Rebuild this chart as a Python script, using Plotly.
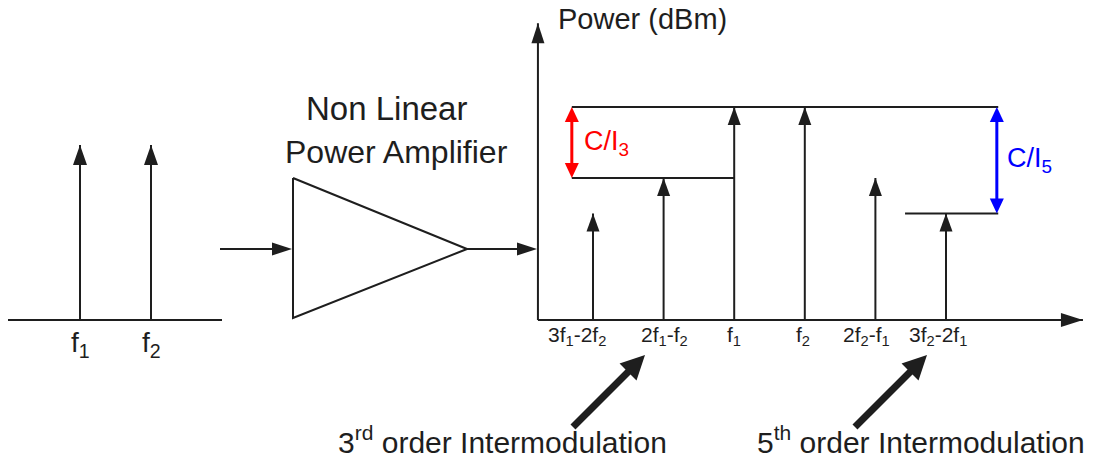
import numpy as np
import plotly.graph_objects as go

W, H = 1095, 464          # browser window
OFF = 8                   # default page margin around the plot div
FW, FH = W - 2 * OFF, H - 2 * OFF

# ---------------- data ----------------
# input two-tone signal (frequency units, dBm)
in_labels = ["f<sub>1</sub>", "f<sub>2</sub>"]
in_freq = [3, 4]
in_power = [0, 0]

# output spectrum of the non-linear amplifier
out_labels = ["3f<sub>1</sub>-2f<sub>2</sub>", "2f<sub>1</sub>-f<sub>2</sub>", "f<sub>1</sub>",
              "f<sub>2</sub>", "2f<sub>2</sub>-f<sub>1</sub>", "3f<sub>2</sub>-2f<sub>1</sub>"]
out_freq = [1, 2, 3, 4, 5, 6]
out_power = [-15, -10, 0, 0, -10, -15]

floor_dbm = -30        # axis baseline
carrier_dbm = 0
im3_dbm = -10
im5_dbm = -15

# extents of the drawn axes (data units)
out_x_origin, out_x_end = 0.22, 7.94
out_y_top = 11.8
ref_x_left, ref_x_right = 0.70, 6.74     # C/I reference line extents
im3_line_end = 3                          # IM3 reference line ends at f1
im5_line_start = 5.42
in_x_left, in_x_right = 1.986, 5.0

bottom_texts = ["3<sup>rd</sup> order Intermodulation", "5<sup>th</sup> order Intermodulation"]

# ---------------- styles / layout helpers ----------------
INK = "#1e1e1e"
FONT = "Liberation Sans, Arial, Helvetica, sans-serif"
label_xshift = [-16, 1, 0, -2, -9, -8]


def pxx(sx):
    return (sx - OFF) / FW


def pxy(sy):
    return 1 - (sy - OFF) / FH


fig = go.Figure()
shapes = []


def head(xref, yref, x, y, ang, length, width, color=INK):
    a = np.radians(ang)
    dx, dy = np.cos(a), np.sin(a)
    px, py = -dy, dx
    bx, by = -length * dx, -length * dy
    p1 = (bx + px * width / 2, by + py * width / 2)
    p2 = (bx - px * width / 2, by - py * width / 2)
    path = f"M0,0 L{p1[0]:.2f},{p1[1]:.2f} L{p2[0]:.2f},{p2[1]:.2f} Z"
    shapes.append(dict(type="path", xref=xref, yref=yref, xsizemode="pixel",
                       ysizemode="pixel", xanchor=x, yanchor=y, path=path,
                       fillcolor=color, line=dict(width=0), layer="above"))


def line(xs, ys, xa="x", ya="y", color=INK, width=2):
    fig.add_trace(go.Scatter(x=xs, y=ys, mode="lines", xaxis=xa, yaxis=ya,
                             line=dict(color=color, width=width),
                             hoverinfo="skip", showlegend=False))


# ---------------- input spectrum (x3/y3) ----------------
line([in_x_left, in_x_right], [floor_dbm, floor_dbm], "x3", "y3")
xs, ys = [], []
for f, p in zip(in_freq, in_power):
    xs += [f, f, None]
    ys += [floor_dbm, p, None]
    head("x3", "y3", f, p, 90, 20, 14)
line(xs, ys, "x3", "y3")

# ---------------- amplifier block (canvas, screen pixel units) ----------------
amp_x = [293, 293, 467, 293]
amp_y = [178, 318, 249, 178]
line(amp_x, amp_y, width=2)
line([220, 280], [249, 249])
head("x", "y", 292, 249, 0, 20, 13)
line([467, 525], [249, 249])
head("x", "y", 537, 249, 0, 20, 13)

# ---------------- output spectrum (x2/y2) ----------------
line([out_x_origin, out_x_origin], [floor_dbm, out_y_top], "x2", "y2")
head("x2", "y2", out_x_origin, out_y_top, 90, 20, 13)
line([out_x_origin, out_x_end], [floor_dbm, floor_dbm], "x2", "y2")
head("x2", "y2", out_x_end, floor_dbm, 0, 22, 14)

xs, ys = [], []
for f, p in zip(out_freq, out_power):
    xs += [f, f, None]
    ys += [floor_dbm, p, None]
    head("x2", "y2", f, p, 90, 18, 13)
line(xs, ys, "x2", "y2")

# reference levels
line([ref_x_left, ref_x_right], [carrier_dbm, carrier_dbm], "x2", "y2")
line([ref_x_left, im3_line_end], [im3_dbm, im3_dbm], "x2", "y2")
line([im5_line_start, ref_x_right], [im5_dbm, im5_dbm], "x2", "y2")

# C/I3 (red) and C/I5 (blue) double arrows
RED, BLUE = "#ff0000", "#0000ff"
line([ref_x_left, ref_x_left], [carrier_dbm - 1.2, im3_dbm + 1.2], "x2", "y2", RED, 3)
head("x2", "y2", ref_x_left, carrier_dbm, 90, 15, 14, RED)
head("x2", "y2", ref_x_left, im3_dbm, -90, 15, 14, RED)
cx5 = ref_x_right - 0.02
line([cx5, cx5], [carrier_dbm - 1.2, im5_dbm + 1.2], "x2", "y2", BLUE, 3)
head("x2", "y2", cx5, carrier_dbm, 90, 15, 14, BLUE)
head("x2", "y2", cx5, im5_dbm, -90, 15, 14, BLUE)

# thick pointer arrows (canvas)
for (tx, ty), (hx, hy) in [((573, 427), (645, 355)), ((855, 427), (927, 355))]:
    d = np.hypot(hx - tx, hy - ty)
    ux, uy = (hx - tx) / d, (hy - ty) / d
    line([tx, hx - ux * 18], [ty, hy - uy * 18], width=7)
    head("x", "y", hx, hy, np.degrees(np.arctan2(-(hy - ty), hx - tx)), 24, 24)

# ---------------- text ----------------
ann = []


def txt(text, x, y, xref="x", yref="y", size=20, color=INK, xanchor="center",
        yanchor="middle", xshift=0, yshift=0):
    ann.append(dict(text=text, x=x, y=y, xref=xref, yref=yref, showarrow=False,
                    font=dict(family=FONT, size=size, color=color),
                    xanchor=xanchor, yanchor=yanchor, xshift=xshift, yshift=yshift))


txt("Non Linear", 386, 108, size=33)
txt("Power Amplifier", 396, 152, size=32)
txt("Power (dBm)", 556, 19, size=29, xanchor="left")
for lab, f in zip(in_labels, in_freq):
    txt(lab, f, floor_dbm, "x3", "y3", size=28, yanchor="top", yshift=-5)
for lab, f, sh in zip(out_labels, out_freq, label_xshift):
    txt(lab, f, floor_dbm, "x2", "y2", size=21, yanchor="top", yshift=-1, xshift=sh)
txt("C/I<sub>3</sub>", ref_x_left, (carrier_dbm + im3_dbm) / 2, "x2", "y2", size=27,
    color=RED, xanchor="left", xshift=10)
txt("C/I<sub>5</sub>", cx5, (carrier_dbm + im5_dbm) / 2, "x2", "y2", size=27,
    color=BLUE, xanchor="left", xshift=8)
txt(bottom_texts[0], 336, 440, size=30, xanchor="left")
txt(bottom_texts[1], 755, 440, size=30, xanchor="left")

# ---------------- axes ----------------
def ax(**kw):
    d = dict(visible=False, fixedrange=True, showgrid=False, zeroline=False)
    d.update(kw)
    return d


k2x = 70.6     # px per frequency unit (output)
k2y = 7.1      # px per dB (output)
k3x = 71.0
k3y = 5.833

fig.update_layout(
    width=FW, height=FH, margin=dict(l=0, r=0, t=0, b=0),
    paper_bgcolor="white", plot_bgcolor="rgba(0,0,0,0)",
    xaxis=ax(domain=[0, 1], range=[OFF, OFF + FW]),
    yaxis=ax(domain=[0, 1], range=[OFF + FH, OFF]),
    xaxis2=ax(domain=[pxx(520), pxx(1086)], anchor="y2",
              range=[1 - (593 - 520) / k2x, 1 + (1086 - 593) / k2x]),
    yaxis2=ax(domain=[pxy(335), pxy(12)], anchor="x2",
              range=[floor_dbm - 15 / k2y, floor_dbm + 308 / k2y]),
    xaxis3=ax(domain=[pxx(8), pxx(240)], anchor="y3",
              range=[3 - 72 / k3x, 3 + 160 / k3x]),
    yaxis3=ax(domain=[pxy(335), pxy(130)], anchor="x3",
              range=[floor_dbm - 15 / k3y, 15 / k3y]),
    shapes=shapes, annotations=ann, showlegend=False,
)

fig.write_html("out.html")
